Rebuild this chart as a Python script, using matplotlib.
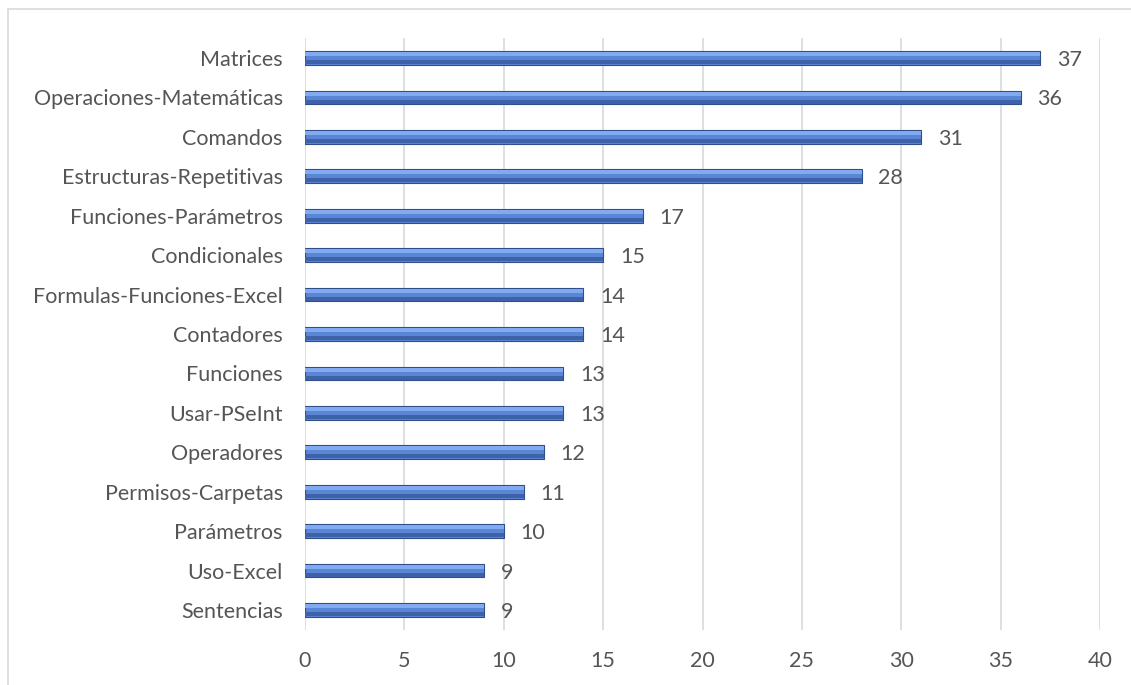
import matplotlib.pyplot as plt
import matplotlib.patches as patches

plt.rcParams['font.family'] = ['Lato', 'DejaVu Sans']

categories = ['Matrices', 'Operaciones-Matemáticas', 'Comandos', 'Estructuras-Repetitivas',
              'Funciones-Parámetros', 'Condicionales', 'Formulas-Funciones-Excel', 'Contadores',
              'Funciones', 'Usar-PSeInt', 'Operadores', 'Permisos-Carpetas', 'Parámetros',
              'Uso-Excel', 'Sentencias']
values = [37, 36, 31, 28, 17, 15, 14, 14, 13, 13, 12, 11, 10, 9, 9]
xticks = [0, 5, 10, 15, 20, 25, 30, 35, 40]

fig = plt.figure(figsize=(11.31, 6.85), dpi=100)
ax = fig.add_axes([0.2697, 0.0807, 0.7029, 0.8634])

pos = list(range(len(categories)))
h = 0.35
txt = '#555555'

# base bar, then a light strip on top and a darker strip at the bottom for the bevel look
ax.barh(pos, values, height=h, color='#5B86D6', edgecolor='#2E4E8C', linewidth=0.8, zorder=3)
ax.barh([p - h * 0.28 for p in pos], values, height=h * 0.3, color='#82AAF0',
        linewidth=0, zorder=4)
ax.barh([p + h * 0.3 for p in pos], values, height=h * 0.28, color='#3E62A8',
        linewidth=0, zorder=4)

for p, v in zip(pos, values):
    ax.text(v + 0.85, p + 0.05, str(v), va='center', ha='left', fontsize=15.5, color=txt)

ax.set_xlim(0, 40)
ax.set_ylim(len(categories) - 0.5, -0.5)
ax.set_xticks(xticks)
ax.set_yticks(pos)
ax.set_yticklabels(categories)
ax.tick_params(axis='both', length=0, labelsize=15.5, labelcolor=txt)
ax.tick_params(axis='x', pad=15)
ax.tick_params(axis='y', pad=16)
ax.grid(axis='x', color='#D9D9D9', linewidth=1.2, zorder=0)
for s in ax.spines.values():
    s.set_visible(False)

# chart area frame
fig.patches.append(patches.Rectangle((8 / 1131, -0.01), 1.1, 1 - 9 / 685 + 0.01,
                                     transform=fig.transFigure, fill=False,
                                     edgecolor='#D9D9D9', linewidth=1.2))

fig.savefig('out.png', dpi=100)
